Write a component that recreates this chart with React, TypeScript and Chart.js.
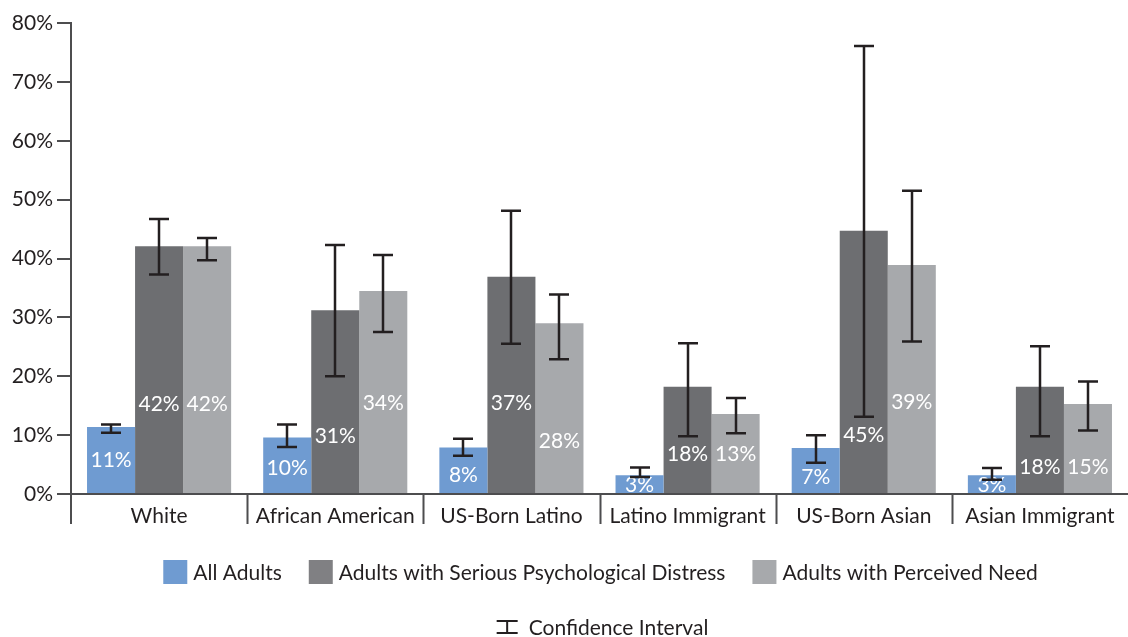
import React, { useEffect, useRef } from "react";
import { Chart, registerables } from "chart.js";

Chart.register(...registerables);

const categories = ["White", "African American", "US-Born Latino", "Latino Immigrant", "US-Born Asian", "Asian Immigrant"];
const seriesNames = ["All Adults", "Adults with Serious Psychological Distress", "Adults with Perceived Need"];

const allAdults = [11.4, 9.6, 7.9, 3.2, 7.8, 3.2];
const distress = [42.1, 31.2, 36.9, 18.2, 44.7, 18.2];
const perceived = [42.1, 34.5, 29.0, 13.6, 38.9, 15.3];

const allAdultsLow = [10.4, 8.0, 6.5, 2.9, 5.3, 2.4];
const allAdultsHigh = [11.8, 11.8, 9.4, 4.5, 10.0, 4.4];
const distressLow = [37.3, 20.0, 25.5, 9.8, 13.1, 9.8];
const distressHigh = [46.7, 42.3, 48.1, 25.6, 76.1, 25.1];
const perceivedLow = [39.7, 27.5, 22.9, 10.3, 25.9, 10.8];
const perceivedHigh = [43.5, 40.6, 33.9, 16.3, 51.5, 19.1];

const allAdultsLabels = ["11%", "10%", "8%", "3%", "7%", "3%"];
const distressLabels = ["42%", "31%", "37%", "18%", "45%", "18%"];
const perceivedLabels = ["42%", "34%", "28%", "13%", "39%", "15%"];

// level (in % units) where each value label sits
const allAdultsLabelAt = [5.7, 4.4, 3.2, 1.5, 2.9, 1.5];
const distressLabelAt = [15.3, 9.8, 15.4, 6.8, 10.0, 4.6];
const perceivedLabelAt = [15.3, 15.4, 8.9, 6.8, 15.6, 4.6];

const yTicks = [0, 10, 20, 30, 40, 50, 60, 70, 80];

const COLORS = ["#6f9bd1", "#6d6e71", "#a7a9ac"];
const LEGEND_COLORS = ["#6f9bd1", "#808083", "#a7a9ac"];
const TEXT = "#231f20";
const AXIS = "#4d4d4f";
const FONT = "Lato";
const FS = 21;

const lows = [allAdultsLow, distressLow, perceivedLow];
const highs = [allAdultsHigh, distressHigh, perceivedHigh];
const labelTexts = [allAdultsLabels, distressLabels, perceivedLabels];
const labelLevels = [allAdultsLabelAt, distressLabelAt, perceivedLabelAt];

const W = 1128;
const H = 637;

const decorPlugin = {
  id: "decor",
  afterDatasetsDraw(chart: any) {
    const ctx = chart.ctx;
    const y = chart.scales.y;
    ctx.save();
    // value labels
    ctx.font = `${FS}px ${FONT}`;
    ctx.fillStyle = "#ffffff";
    ctx.textAlign = "center";
    ctx.textBaseline = "middle";
    chart.data.datasets.forEach((ds: any, di: number) => {
      const meta = chart.getDatasetMeta(di);
      meta.data.forEach((bar: any, i: number) => {
        ctx.fillText(labelTexts[di][i], bar.x, y.getPixelForValue(labelLevels[di][i]));
      });
    });
    // error bars
    ctx.strokeStyle = TEXT;
    ctx.lineWidth = 2.5;
    chart.data.datasets.forEach((ds: any, di: number) => {
      const meta = chart.getDatasetMeta(di);
      meta.data.forEach((bar: any, i: number) => {
        const yl = y.getPixelForValue(lows[di][i]);
        const yh = y.getPixelForValue(highs[di][i]);
        const cx = Math.round(bar.x);
        ctx.beginPath();
        ctx.moveTo(cx, yh);
        ctx.lineTo(cx, yl);
        ctx.moveTo(cx - 10, yh);
        ctx.lineTo(cx + 10, yh);
        ctx.moveTo(cx - 10, yl);
        ctx.lineTo(cx + 10, yl);
        ctx.stroke();
      });
    });
    ctx.restore();
  },
  afterDraw(chart: any) {
    const ctx = chart.ctx;
    const area = chart.chartArea;
    ctx.save();
    // category separators and y-axis extension
    ctx.strokeStyle = AXIS;
    ctx.lineWidth = 2;
    const n = categories.length;
    const step = (area.right - area.left) / n;
    ctx.beginPath();
    ctx.moveTo(area.left, area.bottom);
    ctx.lineTo(area.left, area.bottom + 30);
    for (let i = 1; i < n; i++) {
      const sx = Math.round(area.left + step * i) + 0.5;
      ctx.moveTo(sx, area.bottom);
      ctx.lineTo(sx, area.bottom + 30);
    }
    ctx.stroke();

    // legend row 1
    ctx.font = `${FS}px ${FONT}`;
    ctx.textBaseline = "middle";
    ctx.textAlign = "left";
    const box = 24;
    const gap = 6;
    const spacing = 27;
    const widths = seriesNames.map((s) => ctx.measureText(s).width);
    const total = widths.reduce((a, w) => a + box + gap + w, 0) + spacing * (seriesNames.length - 1);
    const center = (area.left + area.right) / 2;
    let lx = center + 1 - total / 2;
    const rowY = 572;
    seriesNames.forEach((s, i) => {
      ctx.fillStyle = LEGEND_COLORS[i];
      ctx.fillRect(lx, rowY - box / 2, box, box);
      ctx.fillStyle = TEXT;
      ctx.fillText(s, lx + box + gap, rowY + 1);
      lx += box + gap + widths[i] + spacing;
    });

    // legend row 2: confidence interval
    const ciText = "Confidence Interval";
    const ciW = ctx.measureText(ciText).width;
    const iconW = 21;
    const iconGap = 11;
    const total2 = iconW + iconGap + ciW;
    const cx0 = center + 3 - total2 / 2;
    const row2 = 627;
    ctx.strokeStyle = TEXT;
    ctx.lineWidth = 2;
    ctx.beginPath();
    ctx.moveTo(cx0, row2 - 6);
    ctx.lineTo(cx0 + iconW, row2 - 6);
    ctx.moveTo(cx0, row2 + 6);
    ctx.lineTo(cx0 + iconW, row2 + 6);
    ctx.moveTo(cx0 + iconW / 2, row2 - 6);
    ctx.lineTo(cx0 + iconW / 2, row2 + 6);
    ctx.stroke();
    ctx.fillStyle = TEXT;
    ctx.fillText(ciText, cx0 + iconW + iconGap, row2 + 1);
    ctx.restore();
  },
};

export default function App() {
  const ref = useRef<HTMLCanvasElement | null>(null);
  useEffect(() => {
    if (!ref.current) return;
    const chart = new Chart(ref.current, {
      type: "bar",
      data: {
        labels: categories,
        datasets: [
          { label: seriesNames[0], data: allAdults, backgroundColor: COLORS[0] },
          { label: seriesNames[1], data: distress, backgroundColor: COLORS[1] },
          { label: seriesNames[2], data: perceived, backgroundColor: COLORS[2] },
        ],
      },
      options: {
        responsive: false,
        animation: false,
        devicePixelRatio: 1,
        layout: { padding: { top: 23, left: 0, right: 0, bottom: 0 } },
        datasets: { bar: { categoryPercentage: 0.818, barPercentage: 1.0 } },
        plugins: { legend: { display: false }, tooltip: { enabled: false } },
        scales: {
          x: {
            grid: { display: false, drawTicks: false },
            border: { display: true, color: AXIS, width: 2 },
            ticks: { color: TEXT, font: { family: FONT, size: FS }, padding: 10, maxRotation: 0, autoSkip: false },
            afterFit: (s: any) => {
              s.height = H - 494;
            },
          },
          y: {
            min: 0,
            max: 80,
            afterBuildTicks: (s: any) => {
              s.ticks = yTicks.map((v) => ({ value: v }));
            },
            grid: { drawOnChartArea: false, drawTicks: true, tickLength: 14, color: AXIS, lineWidth: 2 },
            border: { display: true, color: AXIS, width: 2 },
            ticks: {
              color: TEXT,
              font: { family: FONT, size: FS },
              padding: 4,
              callback: (v: any) => `${v}%`,
            },
            afterFit: (s: any) => {
              s.width = 71;
            },
          },
        },
      },
      plugins: [decorPlugin],
    });
    return () => chart.destroy();
  }, []);
  return (
    <div style={{ position: "fixed", left: 0, top: 0, width: W, height: H, background: "#fff" }}>
      <canvas ref={ref} width={W} height={H} style={{ width: W, height: H, display: "block" }} />
    </div>
  );
}
